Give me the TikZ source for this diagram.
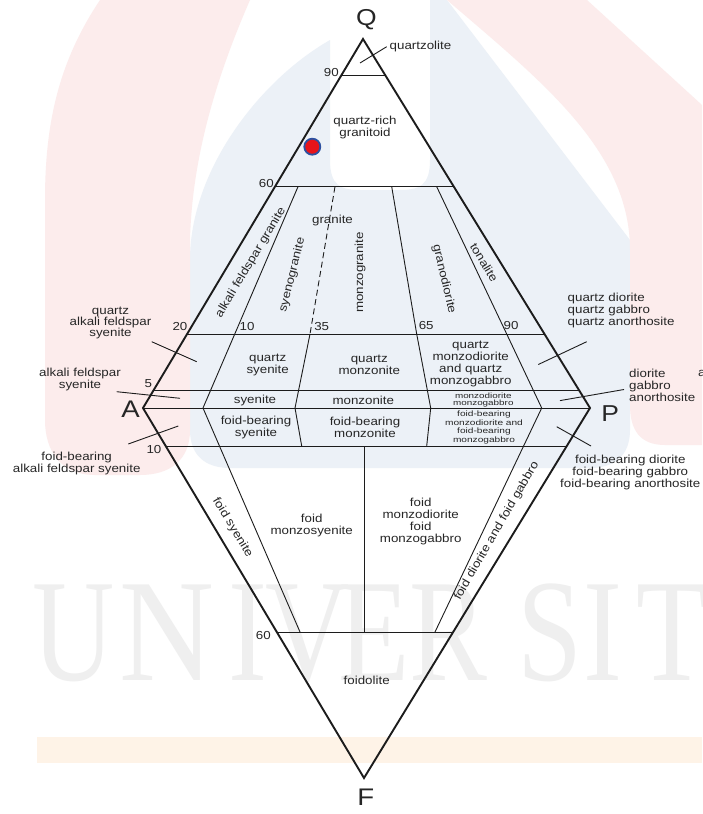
\documentclass[tikz,border=0pt]{standalone}
\usepackage{fontspec}
\usepackage{graphicx}
\setmainfont{Liberation Sans}[FakeStretch=1.15]
\newfontfamily\smallfnt{Liberation Sans}[FakeStretch=1.3]
\newfontfamily\wmfont{Liberation Serif}
\newcommand\mytight{\lineskiplimit=-30pt\relax}
\definecolor{tc}{RGB}{38,38,38}
\definecolor{lc}{RGB}{28,28,28}
\definecolor{wpink}{RGB}{252,236,236}
\definecolor{wblue}{RGB}{236,241,247}
\definecolor{worange}{RGB}{254,243,231}
\definecolor{wgray}{RGB}{239,239,239}
\definecolor{dotred}{RGB}{232,20,26}
\definecolor{dotblue}{RGB}{45,80,160}
\begin{document}
\begin{tikzpicture}[x=1pt,y=-1pt,
  edgeline/.style={line width=1.9pt, draw=lc, line join=miter},
  fine/.style={line width=0.9pt, draw=lc},
  lbl/.style={text=tc, align=center, inner sep=0pt, font=\fontsize{11.6}{12}\selectfont\mytight},
  vtx/.style={text=tc, inner sep=0pt, font=\fontsize{23}{24}\selectfont},
  tinylbl/.style={text=tc, align=center, inner sep=0pt, font=\smallfnt\fontsize{7.6}{6.6}\selectfont\mytight},
  smalllbl/.style={text=tc, align=center, inner sep=0pt, font=\smallfnt\fontsize{7.8}{8.8}\selectfont\mytight},
  wm/.style={text=wgray, inner sep=0pt, anchor=base, font=\wmfont\fontsize{146}{146}\selectfont}
]
\useasboundingbox (0,0) rectangle (702,814);
\fill[white] (0,0) rectangle (702,814);
% ---- watermark background ----
\fill[wblue] (330,40) .. controls (260,80) and (190,170) .. (190,260) -- (190,430)
  .. controls (190,455) and (205,468) .. (230,468) -- (590,468) .. controls (615,468) and (630,455) .. (630,430)
  -- (630,240) -- (447,0) -- (430,0) -- (430,160) .. controls (430,185) and (420,190) .. (400,190)
  -- (360,190) .. controls (340,190) and (330,185) .. (330,160) -- cycle;
\fill[wpink] (100,0) -- (250,0) .. controls (215,80) and (192,160) .. (190,240) -- (190,430)
  .. controls (190,460) and (170,475) .. (140,475) -- (95,475) .. controls (60,475) and (45,450) .. (45,420)
  -- (45,200) .. controls (45,120) and (60,60) .. (100,0) -- cycle;
\fill[wpink] (447,0) -- (587,0) -- (702,105) -- (702,445) -- (665,445) .. controls (640,445) and (630,430) .. (630,405)
  -- (630,250) .. controls (630,150) and (540,80) .. (447,0) -- cycle;
\fill[worange] (37,737) rectangle (702,763);
\node[wm] (w1) at (74,680) {\scalebox{0.78}[1]{U}};
\node[wm] (w2) at (167,680) {\scalebox{0.9}[1]{N}};
\node[wm] (w3) at (248,680) {\scalebox{0.8}[1]{I}};
\node[wm] (w4) at (308,680) {\scalebox{0.8}[1]{V}};
\node[wm] (w5) at (374,680) {\scalebox{0.8}[1]{E}};
\node[wm] (w6) at (448,680) {\scalebox{0.8}[1]{R}};
\node[wm] (w7) at (550,680) {\scalebox{0.8}[1]{S}};
\node[wm] (w8) at (603,680) {\scalebox{0.8}[1]{I}};
\node[wm] (w9) at (672,680) {\scalebox{0.8}[1]{T}};
% ---- coordinates ----
\coordinate (Q) at (363,39);
\coordinate (A) at (143,408);
\coordinate (P) at (590,408);
\coordinate (F) at (364,778);
\coordinate (r90l) at (341.5,75);   \coordinate (r90r) at (385.1,75);
\coordinate (r60l) at (274.9,186.7); \coordinate (r60r) at (453.9,186.7);
\coordinate (r20l) at (187.1,334);  \coordinate (r20r) at (544.5,334);
\coordinate (r5l) at (153.3,390.7); \coordinate (r5r) at (579.4,390.7);
\coordinate (f10l) at (165.7,446);  \coordinate (f10r) at (566.8,446);
\coordinate (f60l) at (276.8,632);  \coordinate (f60r) at (453.2,632);
\coordinate (s10t) at (298,186.7); \coordinate (s10b) at (203,408); \coordinate (s10f) at (300,632);
\coordinate (s35t) at (335,186.7); \coordinate (s35m) at (310,334); \coordinate (s35b) at (295,408); \coordinate (s35f) at (301.7,446);
\coordinate (s65t) at (391.7,186.7); \coordinate (s65m) at (416.7,334); \coordinate (s65b) at (430.7,408); \coordinate (s65f) at (426.7,446);
\coordinate (s90t) at (436.7,186.7); \coordinate (s90m) at (506.7,334); \coordinate (s90b) at (541.7,408); \coordinate (s90f) at (435,632);
\coordinate (vt) at (364,446); \coordinate (vb) at (364,632);
% ---- field boundaries ----
\draw[fine] (r90l) -- (r90r);
\draw[fine] (r60l) -- (r60r);
\draw[fine] (r20l) -- (r20r);
\draw[fine] (r5l) -- (r5r);
\draw[fine] (A) -- (P);
\draw[fine] (f10l) -- (f10r);
\draw[fine] (f60l) -- (f60r);
\draw[fine] (s10t) -- (s10b) -- (s10f);
\draw[fine, dash pattern=on 6pt off 3.5pt] (s35t) -- (s35m);
\draw[fine] (s35m) -- (s35b) -- (s35f);
\draw[fine] (s65t) -- (s65m) -- (s65b) -- (s65f);
\draw[fine] (s90t) -- (s90m) -- (s90b) -- (s90f);
\draw[fine] (vt) -- (vb);
% ---- outer diamond ----
\draw[edgeline] (A) -- (Q) -- (P) -- (F) -- cycle;
% ---- leader lines ----
\coordinate (lq1) at (360,63);     \coordinate (lq2) at (386.7,46.7);
\coordinate (la1) at (151.7,341.7); \coordinate (la2) at (196.7,361.7);
\coordinate (lb1) at (116.7,391.7); \coordinate (lb2) at (180,398.3);
\coordinate (lc1) at (128.3,444);  \coordinate (lc2) at (178.3,426);
\coordinate (ld1) at (538.3,364.5); \coordinate (ld2) at (586.7,341.7);
\coordinate (le1) at (560,400.6);  \coordinate (le2) at (624,389.5);
\coordinate (lf1) at (556.7,426.7); \coordinate (lf2) at (591,446);
\draw[fine] (lq1) -- (lq2);
\draw[fine] (la1) -- (la2);
\draw[fine] (lb1) -- (lb2);
\draw[fine] (lc1) -- (lc2);
\draw[fine] (ld1) -- (ld2);
\draw[fine] (le1) -- (le2);
\draw[fine] (lf1) -- (lf2);
% ---- vertex labels ----
\node[vtx] (tQ) at (366.3,20) {Q};
\node[vtx, font=\fontsize{24}{24}\selectfont] (tA) at (130.5,409.5) {A};
\node[vtx] (tP) at (610.3,413.3) {P};
\node[vtx, font=\fontsize{24}{24}\selectfont] (tF) at (365.8,797.5) {F};
% ---- numbers ----
\node[lbl] (n90a) at (331.3,72.8) {90};
\node[lbl] (n60a) at (266.3,184) {60};
\node[lbl] (n20) at (180,326.7) {20};
\node[lbl] (n10a) at (247,326.7) {10};
\node[lbl] (n35) at (321.7,326.7) {35};
\node[lbl] (n65) at (426.2,325.5) {65};
\node[lbl] (n90b) at (511,325.5) {90};
\node[lbl] (n5) at (148.3,384) {5};
\node[lbl] (n10b) at (154,450) {10};
\node[lbl] (n60b) at (263.3,635) {60};
% ---- field labels ----
\node[lbl, anchor=west] (quartzolite) at (389.5,46.8) {quartzolite};
\node[lbl] (qrg) at (365,127) {quartz-rich\\granitoid};
\node[lbl, rotate=59.2] (afg) at (250.8,262.5) {alkali feldspar granite};
\node[lbl, rotate=76] (syg) at (292.3,275) {syenogranite};
\node[lbl] (gra) at (332.5,220.5) {granite};
\node[lbl, rotate=90] (mzg) at (360,272.5) {monzogranite};
\node[lbl, rotate=-77] (grd) at (444,279) {granodiorite};
\node[lbl, rotate=-59] (ton) at (484.2,262.5) {tonalite};
\node[lbl, font=\fontsize{11.6}{11.2}\selectfont\mytight] (qafs) at (110.5,322.7) {quartz\\alkali feldspar\\syenite};
\node[lbl] (afs) at (80,379.5) {alkali feldspar\\syenite};
\node[lbl] (fbafs) at (76.7,463) {foid-bearing\\alkali feldspar syenite};
\node[lbl] (qsy) at (267.7,365) {quartz\\syenite};
\node[lbl] (qmz) at (369.3,365) {quartz\\monzonite};
\node[lbl] (sye) at (255,400) {syenite};
\node[lbl] (mzn) at (363.3,400) {monzonite};
\node[lbl] (fbsy) at (256,427) {foid-bearing\\syenite};
\node[lbl] (fbmz) at (365,427) {foid-bearing\\monzonite};
\node[lbl] (qmd) at (470.7,364) {quartz\\monzodiorite\\and quartz\\monzogabbro};
\node[tinylbl] (mdg) at (483.3,400) {monzodiorite\\monzogabbro};
\node[smalllbl] (fbmd) at (484,427.5) {foid-bearing\\monzodiorite and\\foid-bearing\\monzogabbro};
\node[lbl, align=left, anchor=west] (qdi) at (567.5,310.5) {quartz diorite\\quartz gabbro\\quartz anorthosite};
\node[lbl, align=left, anchor=west] (dio) at (629,385) {diorite\\gabbro\\anorthosite};
\node[lbl, anchor=west] (cuta) at (698,373.3) {a};
\node[lbl] (fbdi) at (630.3,472.3) {foid-bearing diorite\\foid-bearing gabbro\\foid-bearing anorthosite};
\node[lbl, rotate=-59] (fsy) at (232.5,527.5) {foid syenite};
\node[lbl] (fmsy) at (311.7,525.3) {foid\\monzosyenite};
\node[lbl] (fmdi) at (420.7,521.3) {foid\\monzodiorite\\foid\\monzogabbro};
\node[lbl, rotate=60] (fdfg) at (496.7,530.8) {foid diorite and foid gabbro};
\node[lbl] (fol) at (366.7,680) {foidolite};
% ---- sample point ----
\node[circle, draw=dotblue, line width=1.8pt, fill=dotred, minimum size=16pt, inner sep=0pt] (dot) at (312.3,146.7) {};
\end{tikzpicture}
\end{document}
